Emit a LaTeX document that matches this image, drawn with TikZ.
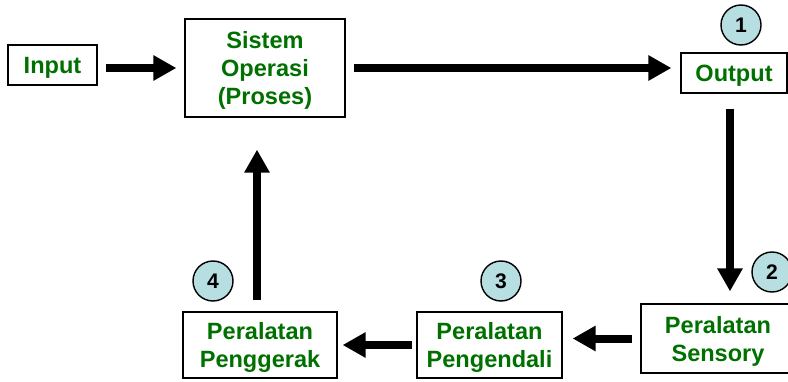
\documentclass[tikz,border=0pt]{standalone}
\usepackage{fontspec}
\setmainfont{Liberation Sans}
\usetikzlibrary{arrows.meta}
\definecolor{labelgreen}{RGB}{0,112,0}
\definecolor{stepblue}{RGB}{183,222,225}
\tikzset{
    box/.style={draw, line width=0.7pt, inner sep=0pt, align=center, text depth=0pt,
                font=\fontsize{13.4}{15.9}\selectfont\bfseries, text=labelgreen},
    flow/.style={-{Triangle[length=0.46cm, width=0.48cm]}, line width=0.16cm},
    num/.style={circle, draw, line width=0.8pt, fill=stepblue,
                minimum size=0.80cm, inner sep=0pt,
                font=\fontsize{12}{14}\selectfont\bfseries},
}

\begin{document}
\begin{tikzpicture}
    \path[use as bounding box] (0,0) rectangle (15.76,-7.62);

    \node[box, minimum width=1.78cm, minimum height=0.80cm] (input) at (1.05,-1.30) {Input};
    \node[box, minimum width=3.20cm, minimum height=1.96cm] (sistem) at (5.30,-1.36) {Sistem\\Operasi\\(Proses)};
    \node[box, minimum width=2.12cm, minimum height=0.80cm] (output) at (14.68,-1.46) {Output};
    \node[box, minimum width=3.08cm, minimum height=1.38cm] (sensory) at (14.36,-6.77) {Peralatan\\Sensory};
    \node[box, minimum width=2.90cm, minimum height=1.32cm] (pengendali) at (9.79,-6.90) {Peralatan\\Pengendali};
    \node[box, minimum width=3.08cm, minimum height=1.32cm] (penggerak) at (5.20,-6.90) {Peralatan\\Penggerak};

    \node[num] (step1) at (14.82,-0.50) {1};
    \node[num] (step2) at (15.44,-5.44) {2};
    \node[num] (step3) at (10.02,-5.62) {3};
    \node[num] (step4) at (4.26,-5.62) {4};

    \draw[flow, shorten <=0.16cm, shorten >=0.16cm] (input.east |- sistem.west) -- (sistem.west);
    \draw[flow, shorten <=0.16cm, shorten >=0.18cm] (sistem.east) -- (sistem.east -| output.west);
    \draw[flow, shorten <=0.30cm, shorten >=0.24cm] ([xshift=-0.08cm]output.south) -- ([xshift=-0.08cm]output.south |- sensory.north);
    \draw[flow, shorten <=0.16cm, shorten >=0.20cm] (sensory.west) -- (sensory.west -| pengendali.east);
    \draw[flow, shorten <=0.08cm, shorten >=0.10cm] (pengendali.west) -- (pengendali.west -| penggerak.east);
    \draw[flow, shorten <=0.22cm, shorten >=0.64cm] ([xshift=-0.06cm]penggerak.north) -- ([xshift=-0.06cm]penggerak.north |- sistem.south);
\end{tikzpicture}
\end{document}
